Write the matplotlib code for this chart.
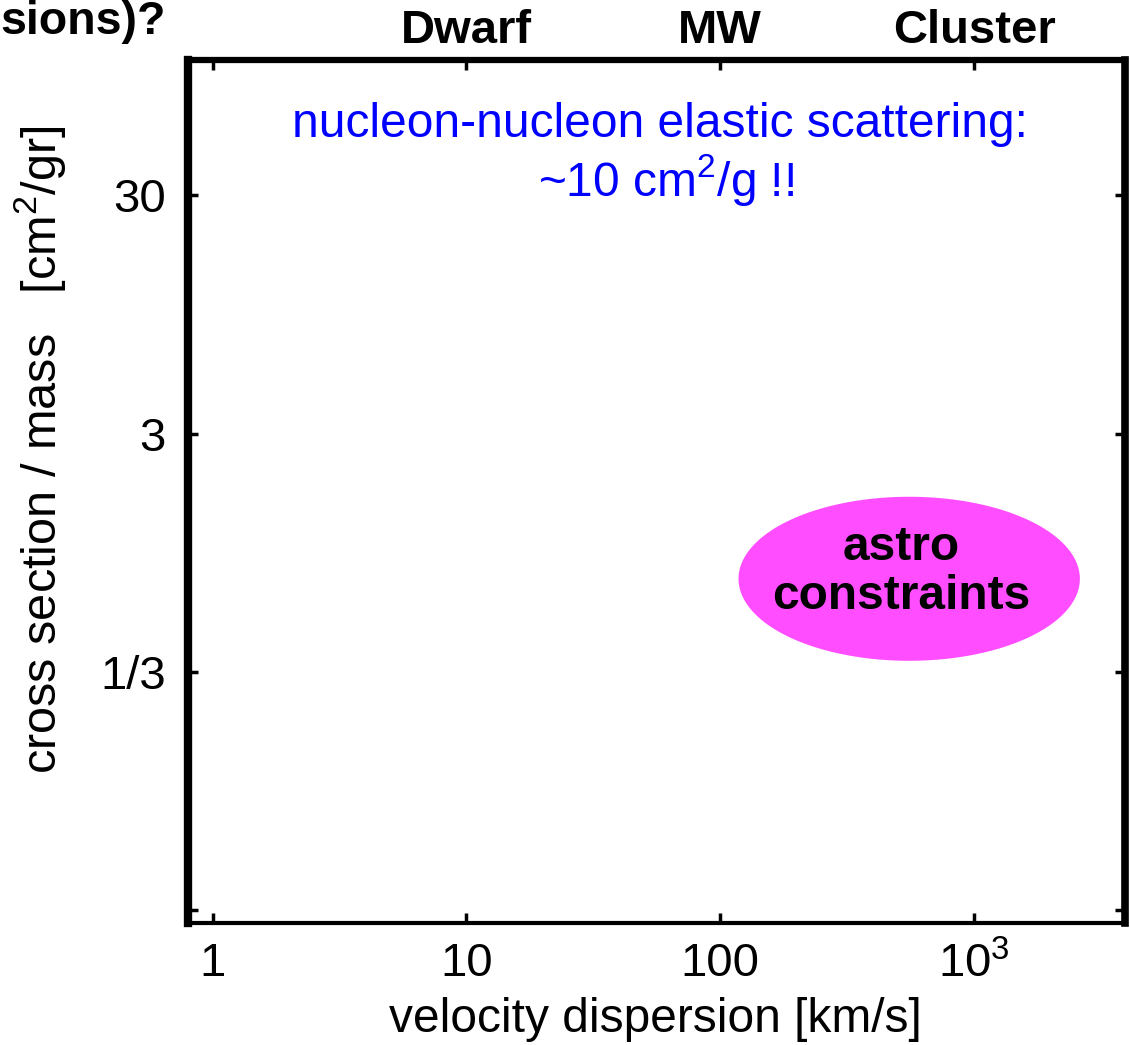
import numpy as np
import matplotlib
matplotlib.use("Agg")
import matplotlib.pyplot as plt
from matplotlib import transforms

plt.rcParams['font.family'] = ['Liberation Sans', 'DejaVu Sans']
plt.rcParams['mathtext.fontset'] = 'custom'
plt.rcParams['mathtext.rm'] = 'Liberation Sans'
plt.rcParams['mathtext.it'] = 'Liberation Sans:italic'
plt.rcParams['mathtext.bf'] = 'Liberation Sans:bold'

# ---- data ----
x_ticks = [1, 10, 100, 1000]
x_ticklabels = ["1", "10", "100", r"10$^3$"]
y_ticks = [30, 3, 0.3, 0.03]
y_ticklabels = ["30", "3", "1/3", ""]
x_limits = [0.80, 3930]
y_limits = [0.0265, 111]
scale_names = ["Dwarf", "MW", "Cluster"]
scale_velocities = [10, 100, 1000]
astro_v_range = [118, 2610]       # km/s extent of the astro-constraint region
astro_sigma_range = [0.334, 1.63] # cm^2/g extent of the astro-constraint region
astro_color = "#FF4DFF"

fig = plt.figure(figsize=(11.3, 10.45), dpi=100)
ax = fig.add_axes([188/1130, 1-923/1045, (1125-188)/1130, (923-60)/1045])
ax.set_xscale('log')
ax.set_yscale('log')
ax.set_xlim(*x_limits)
ax.set_ylim(*y_limits)

# ellipse in log space
lx = np.log10(astro_v_range)
ly = np.log10(astro_sigma_range)
cx, cy = lx.mean(), ly.mean()
rx, ry = (lx[1]-lx[0])/2, (ly[1]-ly[0])/2
t = np.linspace(0, 2*np.pi, 400)
ax.fill(10**(cx + rx*np.cos(t)), 10**(cy + ry*np.sin(t)), color=astro_color, lw=0, zorder=2)
ax.text(10**cx * 0.93, 10**(cy + 0.03), "astro\nconstraints", ha='center', va='center',
        fontsize=34.5, fontweight='bold', color='black', linespacing=1.12, zorder=3)

ax.set_xticks(x_ticks)
ax.set_xticklabels(x_ticklabels)
ax.set_yticks(y_ticks)
ax.set_yticklabels(y_ticklabels)
ax.minorticks_off()
ax.tick_params(axis='both', which='major', direction='in', length=7, width=2.5,
               labelsize=34, top=True, right=True, color='black')
ax.tick_params(axis='x', pad=14)
ax.tick_params(axis='y', pad=16)

ax.spines['left'].set_linewidth(6)
ax.spines['right'].set_linewidth(5.5)
ax.spines['top'].set_linewidth(4.5)
ax.spines['bottom'].set_linewidth(3)

# top scale labels
trans = transforms.blended_transform_factory(ax.transData, ax.transAxes)
for name, v in zip(scale_names, scale_velocities):
    ax.text(v, 1.034, name, transform=trans, ha='center', va='center',
            fontsize=34, fontweight='bold', clip_on=False)

# blue annotation
ax.text(0.504, 0.925, "nucleon-nucleon elastic scattering:", transform=ax.transAxes,
        ha='center', va='center', fontsize=34.5, color='#0000FF')
ax.text(0.510, 0.861, r"~10 cm$^2$/g !!", transform=ax.transAxes,
        ha='center', va='center', fontsize=34.5, color='#0000FF')

fig.text(40/1130, 1-450/1045, r"cross section / mass   [cm$^2$/gr]", rotation=90,
         ha='center', va='center', fontsize=35)
fig.text(655/1130, 1-1020/1045, "velocity dispersion [km/s]", ha='center', va='center',
         fontsize=34.5)
fig.text(166/1130, 1-34/1045, "sions)?", ha='right', va='baseline', fontsize=33.5,
         fontweight='bold')

fig.savefig("out.png", dpi=100)
